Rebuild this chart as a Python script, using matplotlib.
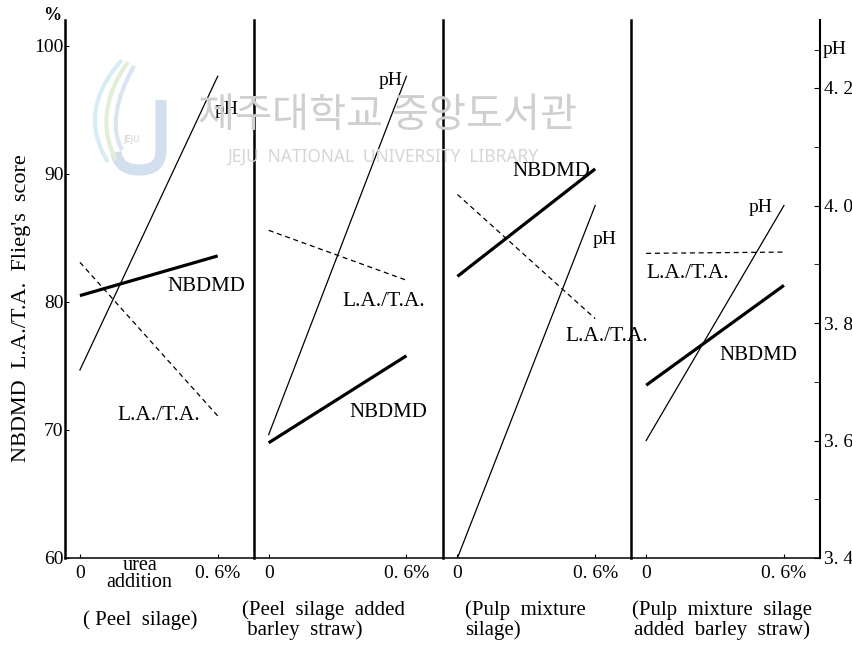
"""
silage NBDMD / L.A.-T.A. / pH vs urea addition, four panels
"""

import numpy as np
import matplotlib
matplotlib.use("Agg")
import matplotlib.pyplot as plt
from matplotlib.path import Path
from matplotlib.patches import PathPatch
from matplotlib.transforms import Affine2D

# date
uree = [0, 0.6]
nbdmd = [[80.5, 83.6], [69.0, 75.8], [82.0, 90.4], [73.5, 81.3]]
la_ta = [[83.1, 71.1], [85.6, 81.7], [88.4, 78.7], [83.8, 83.9]]
ph = [[3.72, 4.22], [3.61, 4.22], [3.40, 4.00], [3.60, 4.00]]
captions = ["( Peel  silage)", "(Peel  silage  added\n barley  straw)",
            "(Pulp  mixture\nsilage)", "(Pulp  mixture  silage\nadded  barley  straw)"]
y_ticks = [60, 70, 80, 90, 100]
ph_ticks = [3.4, 3.6, 3.8, 4.0, 4.2]
ph_minor = [3.5, 3.7, 3.9, 4.1, 4.265]

serif = "Liberation Serif"
plt.rcParams['font.family'] = [serif, 'DejaVu Serif']

W, H = 852, 648
fig = plt.figure(figsize=(W / 100, H / 100), dpi=100)

# watermark (sigla + text), in pixeli de la coltul stanga-sus
px = Affine2D().scale(1 / W, -1 / H).translate(0, 1) + fig.transFigure
C3, C4 = Path.CURVE3, Path.CURVE4
j_path = Path([(161, 100), (161, 150), (161, 170), (140, 170), (118, 170), (116, 152)],
              [Path.MOVETO, Path.LINETO, C3, C3, C3, C3])
fig.add_artist(PathPatch(j_path, transform=px, fill=False, edgecolor="#d3deef",
                         lw=8, capstyle="butt", zorder=0))
swirls = [([(122, 60), (90, 95), (88, 130), (108, 162)], "#d6edf3"),
          ([(128, 62), (104, 95), (100, 130), (116, 160)], "#e2eed6"),
          ([(134, 66), (116, 98), (110, 128), (122, 150)], "#dbe4f2")]
for pts, col in swirls:
    fig.add_artist(PathPatch(Path(pts, [Path.MOVETO, C4, C4, C4]), transform=px,
                             fill=False, edgecolor=col, lw=3, zorder=0))
fig.text(132 / W, 1 - 140 / H, "JEJU", family="DejaVu Sans", fontsize=6,
         color="#d0d0d0", ha="center", va="center", zorder=0)
fig.text(387 / W, 1 - 115 / H, "제주대학교 중앙도서관", family="Noto Sans CJK KR",
         fontsize=29, color="#cfcfcf", ha="center", va="center", zorder=0)
fig.text(383 / W, 1 - 157 / H, "JEJU  NATIONAL  UNIVERSITY  LIBRARY", family="Noto Sans",
         fontsize=12.5, color="#d6d6d6", ha="center", va="center", zorder=0)

x0, x1 = 65 / W, 820 / W
bot = 1 - 558 / H
top = 1 - 20.4 / H
pw = (x1 - x0) / 4
ph_lim = (3.4, 3.4 + 537.6 / 587.5)

# etichete: (x, y) in coordonate date, pe panou
lbl_ph = [(0.64, 95.0), (0.53, 97.3), (0.64, 84.9), (0.50, 87.4)]
lbl_nb = [(0.55, 81.2), (0.52, 71.4), (0.41, 90.2), (0.49, 75.8)]
lbl_la = [(0.345, 71.1), (0.50, 80.0), (0.65, 77.3), (0.18, 82.2)]

for i in range(4):
    ax = fig.add_axes([x0 + i * pw, bot, pw, top - bot])
    ax.set_facecolor("none")
    ax.set_xlim(-0.065, 0.757)
    ax.set_ylim(60, 102)
    for s in ["top", "right"]:
        ax.spines[s].set_visible(False)
    ax.spines["left"].set_linewidth(1.8)
    ax.spines["bottom"].set_linewidth(1.1)
    ax.set_xticks(uree)
    ax.set_xticklabels(["0", "0. 6%"], fontsize=14)
    ax.tick_params(axis="x", direction="in", length=3, pad=5)
    if i == 0:
        ax.set_yticks(y_ticks)
        ax.set_yticklabels([str(v) for v in y_ticks], fontsize=14)
        ax.tick_params(axis="y", direction="in", length=3, pad=1)
    else:
        ax.set_yticks([])

    ax2 = ax.twinx()
    ax2.set_ylim(*ph_lim)
    for s in ["top", "left", "bottom"]:
        ax2.spines[s].set_visible(False)
    if i == 3:
        ax2.spines["right"].set_linewidth(1.5)
        ax2.set_yticks(ph_ticks)
        ax2.set_yticklabels([("%.1f" % v).replace(".", ". ") for v in ph_ticks], fontsize=14)
        ax2.set_yticks(ph_minor, minor=True)
        ax2.tick_params(axis="y", which="both", direction="in", length=4, pad=3)
        ax2.text(1.015, ph_minor[-1], "pH", transform=ax2.get_yaxis_transform(),
                 fontsize=14, va="center", ha="left")
    else:
        ax2.spines["right"].set_visible(False)
        ax2.set_yticks([])

    ax.plot(uree, nbdmd[i], color="black", lw=2.3, solid_capstyle="butt")
    ax.plot(uree, la_ta[i], color="black", lw=0.9, linestyle=(0, (4, 3)))
    ax2.plot(uree, ph[i], color="black", lw=0.9)

    ax2.text(*lbl_ph[i], "pH", transform=ax.transData, fontsize=14, ha="center", va="center")
    ax.text(*lbl_nb[i], "NBDMD", fontsize=15, ha="center", va="center")
    ax.text(*lbl_la[i], "L.A./T.A.", fontsize=15.5, ha="center", va="center")

    if i == 0:
        ax.text(0.26, -0.03, "urea\naddition", transform=ax.get_xaxis_transform(),
                fontsize=14.5, ha="center", va="center", linespacing=0.85)

cap_x = [140, 242, 465, 722]
cap_ha = ["center", "left", "left", "center"]
for i in range(4):
    fig.text(cap_x[i] / W, 1 - 620 / H, captions[i], fontsize=15, ha=cap_ha[i],
             va="center", linespacing=1.05, multialignment="left" if i < 3 else "center")

fig.text(22 / W, 1 - 308 / H, "NBDMD  L.A./T.A.  Flieg's  score", rotation=90,
         fontsize=16, ha="center", va="center")
fig.text(52 / W, 1 - 15 / H, "%", fontsize=13, ha="center", va="center", weight="bold")

fig.savefig("out.png", dpi=100)
